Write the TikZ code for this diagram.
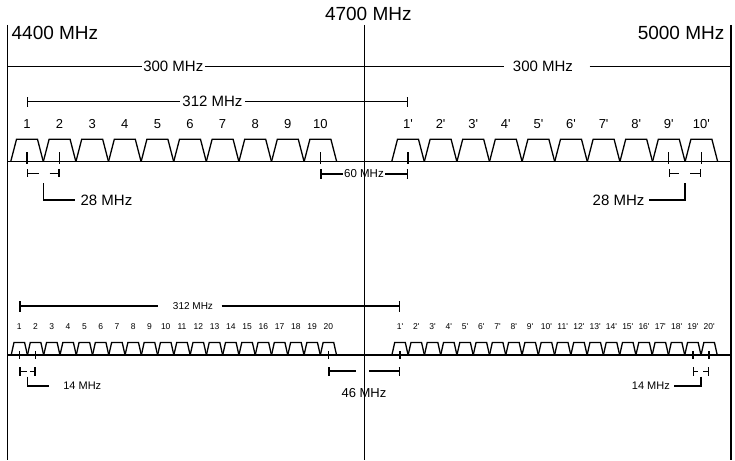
\documentclass[tikz,border=0pt]{standalone}
\usepackage{fontspec}
\setmainfont{Liberation Sans}
\usetikzlibrary{arrows.meta, positioning}

\begin{document}
\begin{tikzpicture}[x=1pt, y=-1pt, line width=1.3pt,
		lbl/.style={font=\fontsize{#1}{#1}\selectfont, inner sep=0pt},
		barl/.style={{Bar[width=#1, length=1.3pt]}-}, barl/.default=10pt,
		barr/.style={-{Bar[width=#1, length=1.3pt]}}, barr/.default=10pt]
	
	\useasboundingbox (0,0) rectangle (735,460);
	
	% Limiti di banda
	\coordinate (topL) at (7.3,25);   \coordinate (botL) at (7.3,460);
	\coordinate (topM) at (364.3,25); \coordinate (botM) at (364.3,460);
	\coordinate (topR) at (730.7,25); \coordinate (botR) at (730.7,460);
	\draw[line width=1.6pt] (topL) -- (botL);
	\draw[line width=1.6pt] (topM) -- (botM);
	\draw[line width=1.6pt] (topR) -- (botR);
	\node[lbl=19, anchor=west] (f4400) at (11,33) {4400 MHz};
	\node[lbl=19] (f4700) at (368.3,14.2) {4700 MHz};
	\node[lbl=19, anchor=east] (f5000) at (725,33) {5000 MHz};
	
	% Semibande da 300 MHz
	\node[lbl=15, inner sep=1pt] (s300a) at (173.3,66.7) {300 MHz};
	\node[lbl=15] (s300b) at (543,66.7) {300 MHz};
	\draw (topL |- s300a) -- (s300a);
	\draw (s300a) -- ([xshift=-8pt]s300b.west);
	\draw ([xshift=16pt]s300b.east) -- (topR |- s300b);
	
	% Canali da 28 MHz (riga superiore)
	\foreach \i in {1,...,10} {
		\coordinate (a\i) at ({27+(\i-1)*32.6},161.7);
		\coordinate (b\i) at ({408+(\i-1)*32.6},161.7);
		\node[lbl=13] (na\i) at ([yshift=37.7pt]a\i) {\i};
		\node[lbl=13] (nb\i) at ([yshift=37.7pt]b\i) {\i\textquotesingle};
		\draw ([xshift=-16.3pt]a\i) -- ++(5.8,-22.4) -- ++(21,0) -- ++(5.8,22.4);
		\draw ([xshift=-16.3pt]b\i) -- ++(5.8,-22.4) -- ++(21,0) -- ++(5.8,22.4);
	}
	\draw (topL |- a1) -- (topR |- a1);
	\foreach \p in {a1,a2,a10,b1,b9,b10}
		\draw ([yshift=9.7pt]\p) -- ([yshift=-2.3pt]\p);
	
	% Quota 312 MHz
	\node[lbl=15, inner sep=2pt] (m312a) at (212.5,101.7) {312 MHz};
	\draw[barl] ([yshift=60pt]a1) -- (m312a);
	\draw[barr] (m312a) -- ([yshift=60pt]b1);
	
	% Quote 28 MHz
	\coordinate (q1) at ([yshift=-11.6pt]a1);
	\coordinate (q2) at ([yshift=-11.6pt]a2);
	\draw[barl=8pt] (q1) -- ++(12,0);
	\draw[barr=8pt] ([xshift=-10pt]q2) -- (q2);
	\node[lbl=15, anchor=west] (m28a) at (80,200) {28 MHz};
	\coordinate (k28a) at (43.3,183.3);
	\draw (k28a) |- ([xshift=-5pt]m28a.west);
	
	\coordinate (q9) at ([yshift=-11.6pt]b9);
	\coordinate (q10) at ([yshift=-11.6pt]b10);
	\draw[barl=8pt] (q9) -- ++(10.4,0);
	\draw[barr=8pt] ([xshift=-11pt]q10) -- (q10);
	\node[lbl=15, anchor=east] (m28b) at (645,200) {28 MHz};
	\coordinate (k28b) at (685,183.3);
	\draw (k28b) |- ([xshift=4pt]m28b.east);
	
	% Quota 60 MHz
	\node[lbl=11.5, inner sep=1pt] (m60) at (364,174) {60 MHz};
	\draw[barl] ([yshift=-12.3pt]a10) -- (m60);
	\draw[barr] (m60) -- ([yshift=-12.3pt]b1);
	
	% Canali da 14 MHz (riga inferiore)
	\foreach \i in {1,...,20} {
		\coordinate (c\i) at ({19.3+(\i-1)*16.27},355);
		\coordinate (d\i) at ({400+(\i-1)*16.27},355);
		\node[lbl=8.5] (nc\i) at ([yshift=28.3pt]c\i) {\i};
		\node[lbl=8.5] (nd\i) at ([yshift=28.3pt]d\i) {\i\textquotesingle};
		\draw ([xshift=-8.1pt]c\i) -- ++(2.8,-12.5) -- ++(10.6,0) -- ++(2.8,12.5);
		\draw ([xshift=-8.1pt]d\i) -- ++(2.8,-12.5) -- ++(10.6,0) -- ++(2.8,12.5);
	}
	\draw (topL |- c1) -- (topR |- c1);
	\foreach \p in {c1,c2,c20,d1,d19,d20}
		\draw ([yshift=4pt]\p) -- ([yshift=-4pt]\p);
	
	% Quota 312 MHz
	\node[lbl=10] (m312b) at (193,306) {312 MHz};
	\coordinate (g1) at (158.3,306);
	\coordinate (g2) at (221.7,306);
	\draw[barl=11pt] ([yshift=49pt]c1) -- (g1);
	\draw[barr=11pt] (g2) -- ([yshift=49pt]d1);
	
	% Quote 14 MHz
	\coordinate (r1) at ([yshift=-16.7pt]c1);
	\coordinate (r2) at ([yshift=-16.7pt]c2);
	\draw[barl=9pt] (r1) -- ++(7.4,0);
	\draw[barr=9pt] ([xshift=-5.6pt]r2) -- (r2);
	\node[lbl=11, anchor=west] (m14a) at (62.7,386) {14 MHz};
	\coordinate (k14a) at (27.5,376.7);
	\draw (k14a) |- ([xshift=-13.4pt]m14a.west);
	
	\coordinate (s19) at ([yshift=-16.7pt]d19);
	\coordinate (s20) at ([yshift=-16.7pt]d20);
	\draw[barl=9pt] (s19) -- ++(5.6,0);
	\draw[barr=9pt] ([xshift=-5.8pt]s20) -- (s20);
	\node[lbl=11, anchor=east] (m14b) at (670.5,386) {14 MHz};
	\coordinate (k14b) at (701,376.7);
	\draw (k14b) |- ([xshift=3.5pt]m14b.east);
	
	% Quota 46 MHz
	\coordinate (r20) at ([yshift=-16pt]c20);
	\coordinate (s1) at ([yshift=-16pt]d1);
	\draw[barl=9pt] (r20) -- ++(27.6,0);
	\draw[barr=9pt] ([xshift=-30.7pt]s1) -- (s1);
	\node[lbl=13] (m46) at (364,393.3) {46 MHz};
	
\end{tikzpicture}
\end{document}
